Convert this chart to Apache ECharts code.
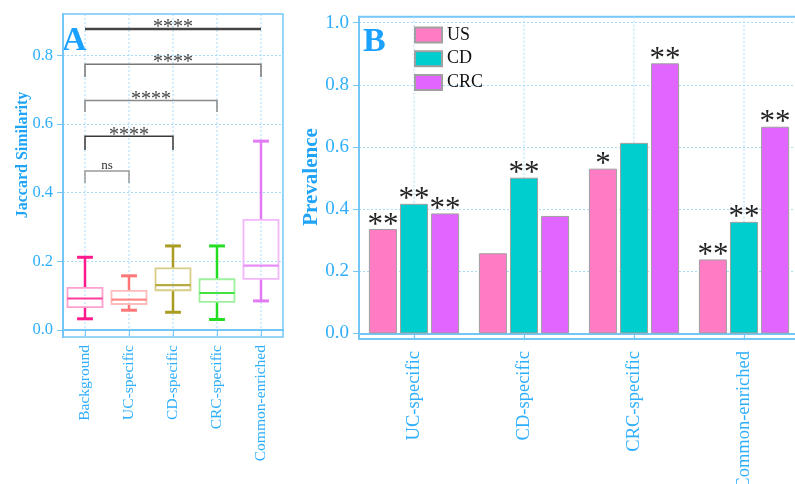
<!DOCTYPE html>
<html>
<head>
<meta charset="utf-8">
<script src="https://cdn.jsdelivr.net/npm/echarts@6/dist/echarts.min.js"></script>
<style>html,body{margin:0;padding:0;background:#fff}#c{width:795px;height:484px}</style>
</head>
<body>
<div id="c"></div>
<script>
// ---- Panel A data (box plots) ----
const catsA = ['Background', 'UC-specific', 'CD-specific', 'CRC-specific', 'Common-enriched'];
const lowA  = [0.033, 0.058, 0.052, 0.031, 0.085];
const q1A   = [0.067, 0.076, 0.116, 0.082, 0.149];
const medA  = [0.092, 0.089, 0.131, 0.108, 0.188];
const q3A   = [0.123, 0.114, 0.180, 0.148, 0.321];
const highA = [0.212, 0.158, 0.245, 0.245, 0.550];
const ticksA = [0, 0.2, 0.4, 0.6, 0.8];

// significance brackets (panel A)
const brFrom = [0, 0, 0, 0, 0];
const brTo   = [1, 2, 3, 4, 4];
const brY    = [0.463, 0.564, 0.668, 0.774, 0.876];
const brDrop = [0.428, 0.524, 0.635, 0.737, 0.876];
const brText = ['ns', '****', '****', '****', '****'];

// ---- Panel B data (bars) ----
const catsB = ['UC-specific', 'CD-specific', 'CRC-specific', 'Common-enriched'];
const usB  = [0.336, 0.258, 0.530, 0.238];
const cdB  = [0.417, 0.501, 0.613, 0.359];
const crcB = [0.386, 0.378, 0.869, 0.665];
const usSig  = ['**', '', '*', '**'];
const cdSig  = ['**', '**', '', '**'];
const crcSig = ['**', '', '**', '**'];
const ticksB = [0, 0.2, 0.4, 0.6, 0.8, 1.0];

// ---- styles ----
const SERIF = '"Liberation Serif","Times New Roman",serif';
const BLUE = '#2eaefc';
const AXIS = '#74c6f6';
const GRIDC = '#a8dcfb';
const boxDark  = ['#ff1b8d', '#ff7676', '#aa9b22', '#22dd22', '#e27af5'];
const boxLight = ['#ffa0cf', '#ffbcbc', '#d8cd86', '#9ef09e', '#f2b6fb'];
const brColor = ['#9a9a9a', '#3a3a3a', '#8a8a8a', '#777777', '#444444'];
const brWidth = [1.5, 1.5, 1.5, 1.5, 2.5];
const barColors = ['#ff7cc4', '#00cdcd', '#e066ff'];

const chart = echarts.init(document.getElementById('c'), null, {renderer: 'canvas'});

// vertical dotted grid lines at category centres
function gridSeries(cats, xi, yi) {
  return {
    type: 'custom', xAxisIndex: xi, yAxisIndex: yi, silent: true, z: 0,
    data: cats.map((c, i) => [i]),
    renderItem: function (params, api) {
      const x = api.coord([api.value(0), 0])[0];
      const cs = params.coordSys;
      return {
        type: 'line',
        shape: {x1: x, y1: cs.y, x2: x, y2: cs.y + cs.height},
        style: {stroke: GRIDC, lineWidth: 1, lineDash: [2, 2]}
      };
    }
  };
}

const yCommon = (ticks, fs) => ({
  axisLine: {show: true, lineStyle: {color: AXIS, width: 2}},
  axisTick: {show: true, length: 6, customValues: ticks, lineStyle: {color: AXIS, width: 1}},
  axisLabel: {customValues: ticks, formatter: v => v.toFixed(1), color: BLUE,
              fontFamily: SERIF, fontSize: fs, margin: 10},
  splitLine: {show: true, lineStyle: {color: GRIDC, type: [2, 2], width: 1}}
});

const starLabel = (sig) => ({
  show: true, position: 'top', distance: 0, offset: [0, 12],
  formatter: p => sig[p.dataIndex],
  fontFamily: SERIF, fontSize: 31, color: '#222'
});

const option = {
  animation: false,
  backgroundColor: '#fff',
  grid: [
    {left: 63, top: 14, width: 220, height: 323, show: true, borderColor: AXIS, borderWidth: 1.5,
     outerBoundsMode: 'none', containLabel: false},
    {left: 359, top: 16.7, width: 440, height: 322.3, show: true, borderColor: AXIS, borderWidth: 2,
     outerBoundsMode: 'none', containLabel: false}
  ],
  xAxis: [
    {type: 'category', gridIndex: 0, data: catsA,
     axisLine: {show: true, lineStyle: {color: AXIS, width: 2}},
     axisTick: {show: true, alignWithLabel: true, length: 6, lineStyle: {color: AXIS}},
     axisLabel: {interval: 0, rotate: 90, color: BLUE, fontFamily: SERIF, fontSize: 15.5, margin: 8},
     splitLine: {show: false}},
    {type: 'category', gridIndex: 1, data: catsB,
     axisLine: {show: true, lineStyle: {color: AXIS, width: 2}},
     axisTick: {show: true, alignWithLabel: true, length: 7, lineStyle: {color: AXIS}},
     axisLabel: {interval: 0, rotate: 90, color: BLUE, fontFamily: SERIF, fontSize: 18.5, margin: 12},
     splitLine: {show: false}}
  ],
  yAxis: [
    Object.assign({type: 'value', gridIndex: 0, min: -0.02, max: 0.92}, yCommon(ticksA, 16.5)),
    Object.assign({type: 'value', gridIndex: 1, min: -0.018, max: 1.019}, yCommon(ticksB, 19))
  ],
  legend: {
    orient: 'vertical', left: 414, top: 26, padding: 0,
    itemWidth: 27, itemHeight: 15, itemGap: 5.7,
    icon: 'rect',
    textStyle: {fontFamily: SERIF, fontSize: 18, color: '#111', lineHeight: 15, padding: [0, 0, 0, 0]},
    data: ['US', 'CD', 'CRC']
  },
  graphic: [
    {type: 'text', x: 62, y: 41, style: {text: 'A', font: 'bold 34px ' + SERIF, fill: '#1ba1ff', verticalAlign: 'middle'}},
    {type: 'text', x: 363, y: 42, style: {text: 'B', font: 'bold 34px ' + SERIF, fill: '#1ba1ff', verticalAlign: 'middle'}},
    {type: 'text', x: 23, y: 155, rotation: Math.PI / 2,
     style: {text: 'Jaccard Similarity', font: 'bold 16px ' + SERIF, fill: '#1ea3f7', align: 'center', verticalAlign: 'middle'}},
    {type: 'text', x: 312, y: 177, rotation: Math.PI / 2,
     style: {text: 'Prevalence', font: 'bold 21px ' + SERIF, fill: '#1ea3f7', align: 'center', verticalAlign: 'middle'}}
  ],
  series: [
    gridSeries(catsA, 0, 0),
    gridSeries(catsB, 1, 1),
    {
      type: 'custom', name: 'box', xAxisIndex: 0, yAxisIndex: 0, z: 3,
      data: catsA.map((c, i) => [i, lowA[i], q1A[i], medA[i], q3A[i], highA[i]]),
      renderItem: function (params, api) {
        const i = api.value(0);
        const band = api.size([1, 0])[0];
        const bw = band * 0.795, cw = band * 0.36;
        const pLow = api.coord([i, api.value(1)]);
        const pQ1 = api.coord([i, api.value(2)]);
        const pMed = api.coord([i, api.value(3)]);
        const pQ3 = api.coord([i, api.value(4)]);
        const pHigh = api.coord([i, api.value(5)]);
        const x = pMed[0];
        const dark = boxDark[i], light = boxLight[i];
        return {
          type: 'group',
          children: [
            {type: 'line', shape: {x1: x, y1: pHigh[1], x2: x, y2: pQ3[1]}, style: {stroke: dark, lineWidth: 2.5}},
            {type: 'line', shape: {x1: x, y1: pQ1[1], x2: x, y2: pLow[1]}, style: {stroke: dark, lineWidth: 2.5}},
            {type: 'line', shape: {x1: x - cw / 2, y1: pHigh[1], x2: x + cw / 2, y2: pHigh[1]}, style: {stroke: dark, lineWidth: 3}},
            {type: 'line', shape: {x1: x - cw / 2, y1: pLow[1], x2: x + cw / 2, y2: pLow[1]}, style: {stroke: dark, lineWidth: 3}},
            {type: 'rect', shape: {x: x - bw / 2, y: pQ3[1], width: bw, height: pQ1[1] - pQ3[1]},
             style: {fill: 'rgba(255,255,255,0)', stroke: light, lineWidth: 1.8}},
            {type: 'line', shape: {x1: x - bw / 2, y1: pMed[1], x2: x + bw / 2, y2: pMed[1]}, style: {stroke: dark, lineWidth: 2.2, opacity: 0.85}}
          ]
        };
      }
    },
    {
      type: 'custom', name: 'brackets', xAxisIndex: 0, yAxisIndex: 0, z: 5,
      data: brY.map((y, k) => [brFrom[k], brTo[k], y, brDrop[k]]),
      renderItem: function (params, api) {
        const k = params.dataIndex;
        const a = api.coord([api.value(0), api.value(2)]);
        const b = api.coord([api.value(1), api.value(2)]);
        const d = api.coord([api.value(0), api.value(3)]);
        const pts = [[a[0], d[1]], [a[0], a[1]], [b[0], b[1]], [b[0], d[1]]];
        const isNs = brText[k] === 'ns';
        return {
          type: 'group',
          children: [
            {type: 'polyline', shape: {points: pts}, style: {stroke: brColor[k], lineWidth: brWidth[k], fill: null}},
            {type: 'text', style: {
              text: brText[k], x: (a[0] + b[0]) / 2, y: a[1] + (isNs ? 1 : 9),
              align: 'center', verticalAlign: 'bottom',
              font: (isNs ? '13px ' : '20px ') + SERIF, fill: isNs ? '#333' : '#444'}}
          ]
        };
      }
    },
    {
      type: 'bar', name: 'US', xAxisIndex: 1, yAxisIndex: 1, data: usB, z: 3,
      barCategoryGap: '18%', barGap: '11%',
      itemStyle: {color: barColors[0], borderColor: '#a0a0a0', borderWidth: 1},
      label: starLabel(usSig)
    },
    {
      type: 'bar', name: 'CD', xAxisIndex: 1, yAxisIndex: 1, data: cdB, z: 3,
      barCategoryGap: '18%', barGap: '11%',
      itemStyle: {color: barColors[1], borderColor: '#a0a0a0', borderWidth: 1},
      label: starLabel(cdSig)
    },
    {
      type: 'bar', name: 'CRC', xAxisIndex: 1, yAxisIndex: 1, data: crcB, z: 3,
      barCategoryGap: '18%', barGap: '11%',
      itemStyle: {color: barColors[2], borderColor: '#a0a0a0', borderWidth: 1},
      label: starLabel(crcSig)
    }
  ]
};
chart.setOption(option);
</script>
</body>
</html>
